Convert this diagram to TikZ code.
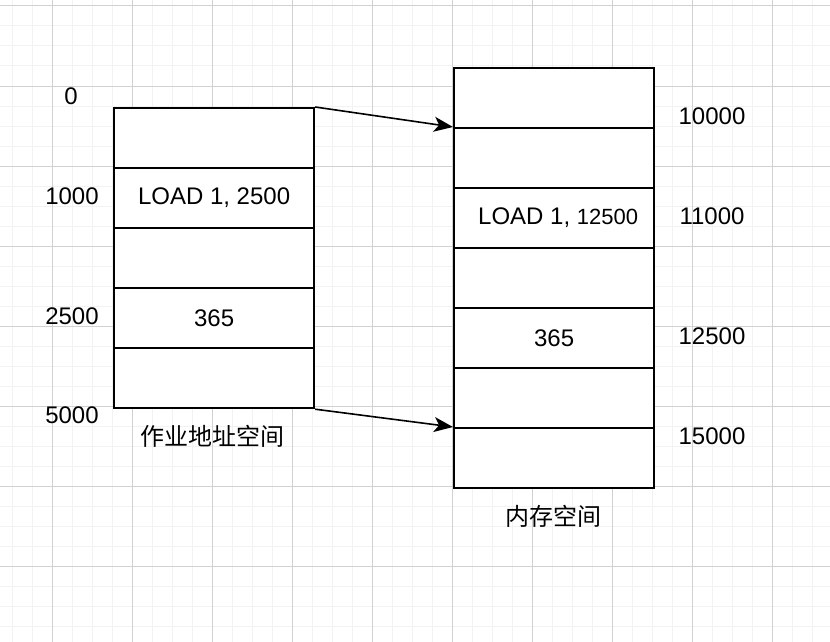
\documentclass[tikz,border=0pt]{standalone}
\usepackage{fontspec}
\setmainfont{Liberation Sans}
\newfontfamily\cjk{Noto Sans CJK SC}
\usetikzlibrary{arrows.meta}
\begin{document}
\begin{tikzpicture}[x=1pt,y=-1pt,
  cell/.style={draw=black,fill=white,line width=2.2pt,minimum width=200pt,minimum height=60pt,inner sep=0pt,anchor=north west,font=\fontsize{24}{26}\selectfont},
  lbl/.style={inner sep=0pt,font=\fontsize{24}{26}\selectfont},
  arr/.style={line width=1.6pt,-{Stealth[length=19pt,width=15pt,inset=5pt]}}]
\useasboundingbox (0,0) rectangle (830,642);
\fill[white] (0,0) rectangle (830,642);
% grid
\foreach \x in {12,32,...,830} \draw[color=black!5,line width=1pt] (\x,0) -- (\x,642);
\foreach \y in {6,26,...,642} \draw[color=black!5,line width=1pt] (0,\y) -- (830,\y);
\foreach \x in {52,132,...,830} \draw[color=black!18,line width=1pt] (\x,0) -- (\x,642);
\foreach \y in {6,86,...,642} \draw[color=black!18,line width=1pt] (0,\y) -- (830,\y);
% left box
\node[cell] (L0) at (113,107) {};
\node[cell] (L1) at (113,167) {LOAD 1, 2500};
\node[cell] (L2) at (113,227) {};
\node[cell] (L3) at (113,287) {365};
\node[cell] (L4) at (113,347) {};
% right box
\node[cell] (R0) at (453,67) {};
\node[cell] (R1) at (453,127) {};
\node[cell] (R2) at (453,187) {\hspace*{8pt}LOAD 1, {\fontsize{22}{26}\selectfont 12500}};
\node[cell] (R3) at (453,247) {};
\node[cell] (R4) at (453,307) {365};
\node[cell] (R5) at (453,367) {};
\node[cell] (R6) at (453,427) {};
% labels left
\node[lbl] (a0) at (71,96) {0};
\node[lbl] (a1) at (72,196) {1000};
\node[lbl] (a2) at (72,316) {2500};
\node[lbl] (a3) at (72,415) {5000};
\node[lbl,font=\cjk\fontsize{24}{26}\selectfont] (ta) at (212,436) {作业地址空间};
% labels right
\node[lbl] (b0) at (712,116) {10000};
\node[lbl] (b1) at (712,216) {11000};
\node[lbl] (b2) at (712,336) {12500};
\node[lbl] (b3) at (712,436) {15000};
\node[lbl,font=\cjk\fontsize{24}{26}\selectfont] (tb) at (553,516) {内存空间};
% arrows
\draw[arr] (L0.north east) -- (R1.north west);
\draw[arr] (L4.south east) -- (R6.north west);
\end{tikzpicture}
\end{document}
